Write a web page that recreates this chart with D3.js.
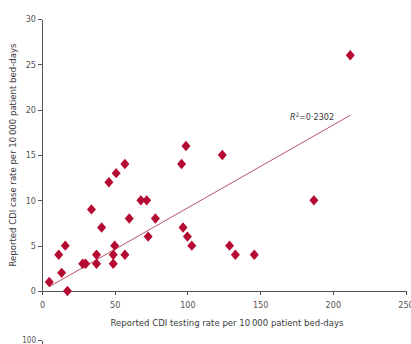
<!DOCTYPE html>
<meta charset="utf-8">
<head>
<style>
body { margin: 0; background: #fff; }
svg { display: block; }
.axis path, .axis line { stroke: #555; stroke-width: 1; shape-rendering: crispEdges; }
.axis text { font: 9px "Liberation Sans Narrow", "DejaVu Sans Condensed", sans-serif; fill: #555; }
.ttl { font: 9.5px "Liberation Sans Narrow", "DejaVu Sans Condensed", sans-serif; fill: #3a3a3a; }
.pnt { fill: #b50a32; }
</style>
<script src="https://d3js.org/d3.v7.min.js"></script>
</head>
<body>
<svg id="plot" width="411" height="344"></svg>
<script>

// testing rate (x) vs case rate (y)
var testRate = [5, 11.5, 13.5, 16, 17.5, 28, 30, 34, 37.5, 37.5, 41, 46, 49, 49, 50, 51, 57, 57,
                60, 68, 72, 73, 78, 96, 97, 99, 100, 103, 124, 129, 133, 146, 187, 212];
var caseRate = [1, 4, 2, 5, 0, 3, 3, 9, 4, 3, 7, 12, 3, 4, 5, 13, 4, 14,
                8, 10, 10, 6, 8, 14, 7, 16, 6, 5, 15, 5, 4, 4, 10, 26];

var xTicks = [0, 50, 100, 150, 200, 250];
var yTicks = [0, 5, 10, 15, 20, 25, 30];

// fitted line
var fitX = [5, 212];
var fitSlope = 0.0913, fitIntercept = 0.02;
var r2Label = "0\u00b72302";

var svg = d3.select("svg");

var x = d3.scaleLinear().domain([0, 250]).range([42, 405.5]);
var y = d3.scaleLinear().domain([0, 30]).range([291, 19]);

svg.append("g")
    .attr("class", "axis")
    .attr("transform", "translate(0," + y(0) + ")")
    .call(d3.axisBottom(x).tickValues(xTicks).tickSize(4).tickSizeOuter(0).tickPadding(7));

svg.append("g")
    .attr("class", "axis")
    .attr("transform", "translate(" + x(0) + ",0)")
    .call(d3.axisLeft(y).tickValues(yTicks).tickSize(4).tickSizeOuter(0).tickPadding(2));

svg.append("text")
    .attr("class", "ttl")
    .attr("x", 227).attr("y", 326)
    .attr("text-anchor", "middle")
    .text("Reported CDI testing rate per 10\u2009000 patient bed-days");

svg.append("text")
    .attr("class", "ttl")
    .attr("transform", "translate(16,155) rotate(-90)")
    .attr("text-anchor", "middle")
    .text("Reported CDI case rate per 10\u2009000 patient bed-days");

// regression line
svg.append("line")
    .attr("x1", x(fitX[0])).attr("y1", y(fitIntercept + fitSlope * fitX[0]))
    .attr("x2", x(fitX[1])).attr("y2", y(fitIntercept + fitSlope * fitX[1]))
    .attr("stroke", "#b65468")
    .attr("stroke-width", 1);

var r2 = svg.append("text")
    .attr("class", "ttl")
    .attr("x", 290).attr("y", 120)
    .style("font-size", "9px");
r2.append("tspan").style("font-style", "italic").text("R");
r2.append("tspan").attr("dy", -3).style("font-size", "6px").text("2");
r2.append("tspan").attr("dy", 3).text("=" + r2Label);

var diamond = "M0,-5.2L4.5,0L0,5.2L-4.5,0Z";

svg.selectAll(".pnt")
    .data(testRate.map(function(d, i) { return [d, caseRate[i]]; }))
  .enter().append("path")
    .attr("class", "pnt")
    .attr("d", diamond)
    .attr("transform", function(d) { return "translate(" + x(d[0]) + "," + y(d[1]) + ")"; });

// top of the next panel peeking in at the bottom
var y2 = d3.scaleLinear().domain([0, 100]).range([600, 340]);
var nxt = svg.append("g")
    .attr("class", "axis")
    .attr("transform", "translate(" + x(0) + ",0)")
    .call(d3.axisLeft(y2).tickValues([100]).tickSize(4).tickSizeOuter(0).tickPadding(2));
nxt.select("text").style("font-size", "8px");

</script>
</body>
